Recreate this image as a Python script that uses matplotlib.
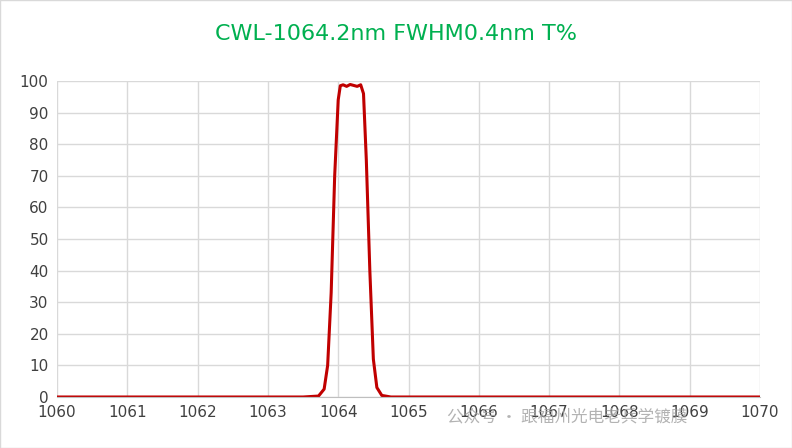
import matplotlib
matplotlib.use("Agg")
import matplotlib.pyplot as plt

wl = [1060, 1063.5, 1063.72, 1063.8, 1063.85, 1063.9, 1063.95, 1064.0, 1064.03, 1064.07, 1064.12,
      1064.17, 1064.22, 1064.27, 1064.32, 1064.36, 1064.4, 1064.45, 1064.5, 1064.55, 1064.62, 1064.75, 1065, 1070]
T = [0, 0, 0.3, 2.5, 10, 33, 70, 94, 98.5, 98.8, 98.3, 98.9, 98.6, 98.3, 98.8, 96, 75, 40, 12, 3, 0.5, 0, 0, 0]
xticks = list(range(1060, 1071))
yticks = list(range(0, 101, 10))

fig = plt.figure(figsize=(7.92, 4.48), dpi=100)
ax = fig.add_axes([57/792, 51/448, 703/792, 316/448])
ax.plot(wl, T, color="#C00000", lw=2.2)
ax.set_xlim(1060, 1070)
ax.set_ylim(0, 100)
ax.set_xticks(xticks)
ax.set_yticks(yticks)
ax.grid(True, color="#D9D9D9", lw=1)
for s in ["top", "right", "left"]:
    ax.spines[s].set_visible(False)
ax.spines["bottom"].set_color("#BFBFBF")
ax.tick_params(length=0, labelsize=11, colors="#404040", pad=6)
fig.text(0.5, 0.925, "CWL-1064.2nm FWHM0.4nm T%", ha="center", va="center",
         color="#00B050", fontsize=16)
fig.text(0.565, 0.07, "公众号 · 跟福州光电老兵学镀膜", ha="left", va="center",
         color="#A0A0A0", fontsize=12, family=["Noto Sans CJK SC", "DejaVu Sans"], alpha=0.8)
fig.patches.append(plt.Rectangle((0, 0), 1, 1, transform=fig.transFigure, fill=False,
                                 edgecolor="#D9D9D9", lw=1))
fig.savefig("out.png", dpi=100)
